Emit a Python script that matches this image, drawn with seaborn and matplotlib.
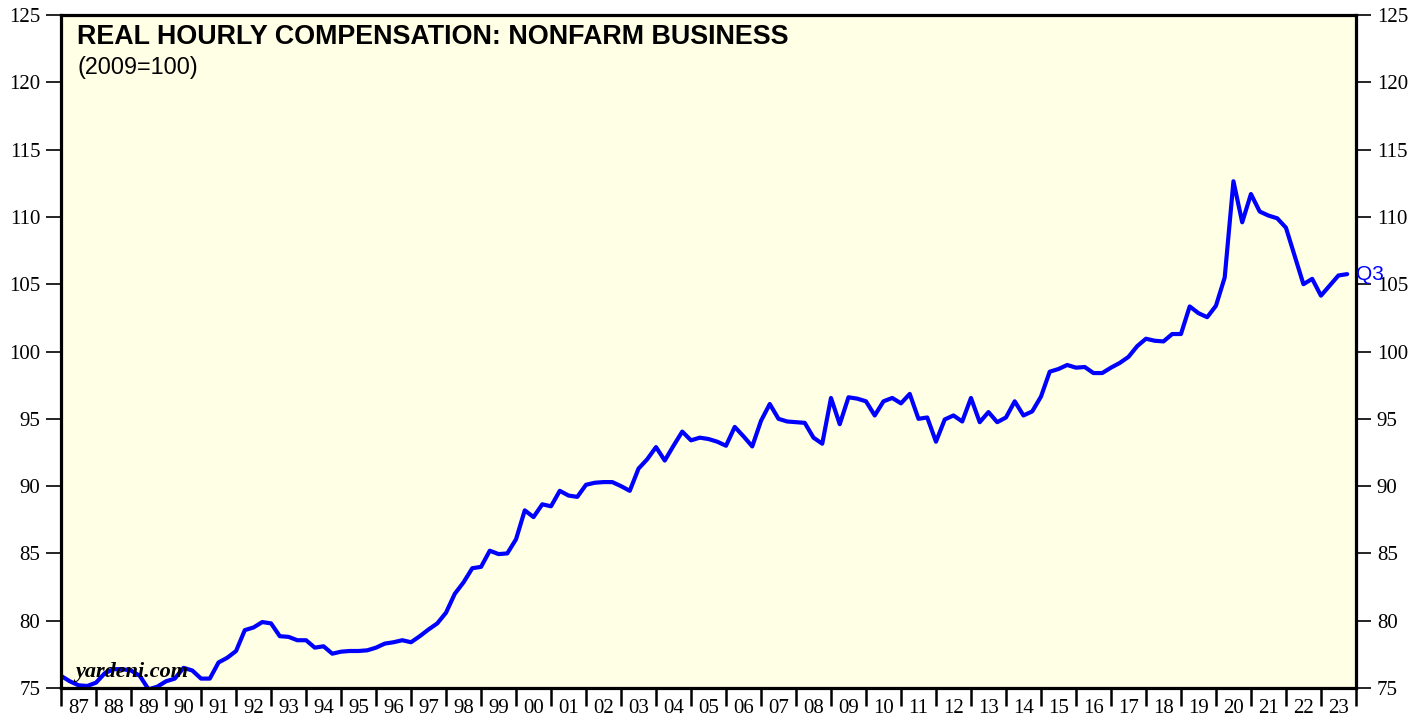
import numpy as np
import pandas as pd
import matplotlib
matplotlib.use("Agg")
import matplotlib.pyplot as plt
import seaborn as sns

# Real hourly compensation, nonfarm business (2009=100), quarterly
# first point is 1986 Q4 (sits on the left edge), last is 2023 Q3
comp_1986_1995 = [75.9,
                  75.5, 75.2, 75.15, 75.4,     # 87
                  76.1, 76.4, 76.4, 76.3,      # 88
                  75.9, 74.9, 75.1, 75.5,      # 89
                  75.7, 76.5, 76.3, 75.7,      # 90
                  75.7, 76.9, 77.25, 77.75,    # 91
                  79.3, 79.5, 79.9, 79.8,      # 92
                  78.85, 78.8, 78.55, 78.55,   # 93
                  78.0, 78.1, 77.55, 77.7,     # 94
                  77.75, 77.75, 77.8, 78.0]    # 95
comp_1996_2005 = [78.3, 78.4, 78.55, 78.4,
                  78.85, 79.35, 79.8, 80.6,
                  82.0, 82.85, 83.9, 84.0,
                  85.2, 84.95, 85.0, 86.05,
                  88.2, 87.7, 88.65, 88.5,
                  89.65, 89.3, 89.2, 90.1,
                  90.25, 90.3, 90.3, 90.0,
                  89.65, 91.3, 92.0, 92.9,
                  91.9, 93.0, 94.05, 93.4,
                  93.6, 93.5, 93.3, 93.0]
comp_2006_2015 = [94.4, 93.7, 92.95, 94.85,
                  96.1, 95.0, 94.8, 94.75,
                  94.7, 93.6, 93.15, 96.55,
                  94.6, 96.6, 96.5, 96.3,
                  95.25, 96.3, 96.55, 96.15,
                  96.85, 95.0, 95.1, 93.3,
                  94.95, 95.25, 94.8, 96.55,
                  94.75, 95.5, 94.75, 95.1,
                  96.3, 95.25, 95.55, 96.65,
                  98.5, 98.7, 99.0, 98.8]
comp_2016_2023 = [98.85, 98.4, 98.4, 98.8,
                  99.15, 99.6, 100.4, 100.95,
                  100.8, 100.75, 101.3, 101.3,
                  103.35, 102.85, 102.55, 103.4,
                  105.5, 112.65, 109.6, 111.7,
                  110.4, 110.1, 109.9, 109.2,
                  107.1, 105.0, 105.4, 104.15,
                  104.9, 105.65, 105.75]

quarters = pd.period_range("1986Q4", "2023Q3", freq="Q")
values = comp_1986_1995 + comp_1996_2005 + comp_2006_2015 + comp_2016_2023

df = pd.DataFrame({"Quarter": quarters, "Compensation": values})
# plot each quarter at its end, as a decimal year
df["Year"] = df["Quarter"].dt.year + df["Quarter"].dt.quarter / 4.0

year_labels = [f"{y % 100:02d}" for y in range(1987, 2024)]

sns.set_theme(style="white")
plt.rcParams["font.family"] = ["Liberation Serif", "DejaVu Serif"]
plt.rcParams["text.color"] = "black"
plt.rcParams["xtick.color"] = "black"
plt.rcParams["ytick.color"] = "black"

fig = plt.figure(figsize=(14.27, 7.19), dpi=100)
ax = fig.add_axes([0.0428, 0.0431, 0.9074, 0.9360])
ax.set_facecolor("#ffffe6")

sns.lineplot(data=df, x="Year", y="Compensation", ax=ax, color="#0000ff",
             linewidth=3.0)

ax.set_xlim(1987, 2024)
ax.set_ylim(75, 125)
ax.set_xlabel("")
ax.set_ylabel("")

# y axis: labels on both sides
ax.set_yticks(np.arange(75, 126, 5))
ax.tick_params(axis="y", which="major", direction="out", length=11, width=1.2,
               labelsize=15, labelcolor="black",
               left=True, right=True, labelleft=True, labelright=True, pad=4)

# x axis: ticks at year boundaries, labels centred in between
ax.set_xticks(np.arange(1987, 2025, 1))
ax.set_xticklabels([])
ax.set_xticks(np.arange(1987.5, 2024, 1), minor=True)
ax.set_xticklabels(year_labels, minor=True)
ax.tick_params(axis="x", which="major", direction="out", length=13, width=1.8,
               bottom=True)
ax.tick_params(axis="x", which="minor", length=0, labelsize=15, pad=8,
               labelcolor="black")

for side in ["left", "right", "top", "bottom"]:
    ax.spines[side].set_visible(True)
    ax.spines[side].set_color("black")
    ax.spines[side].set_linewidth(2.3)
ax.grid(False)

ax.text(0.0124, 0.957, "REAL HOURLY COMPENSATION: NONFARM BUSINESS",
        transform=ax.transAxes, fontsize=19.4, fontweight="bold", color="black",
        family=["Liberation Sans", "DejaVu Sans"], va="baseline", ha="left")
ax.text(0.0124, 0.912, "(2009=100)", transform=ax.transAxes, fontsize=16.8,
        color="black", family=["Liberation Sans", "DejaVu Sans"],
        va="baseline", ha="left")

ax.text(0.011, 0.016, "yardeni.com", transform=ax.transAxes, fontsize=16,
        fontweight="bold", fontstyle="italic", color="black",
        va="baseline", ha="left", zorder=5)

last = df.iloc[-1]
ax.annotate("Q3", xy=(last["Year"], last["Compensation"]), xytext=(6, 0),
            textcoords="offset points", color="#0000ff", fontsize=15,
            family=["Liberation Sans", "DejaVu Sans"], va="center", ha="left",
            annotation_clip=False, zorder=6)

fig.savefig("out.png", dpi=100, facecolor="white")
